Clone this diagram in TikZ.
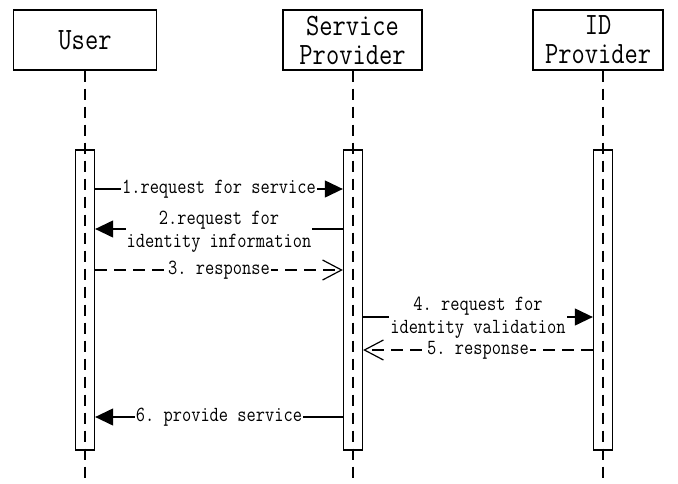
\documentclass[tikz,border=0pt]{standalone}
\usepackage{fontspec}
\setmonofont[FakeStretch=0.83]{Latin Modern Mono}
\usetikzlibrary{arrows.meta}
\begin{document}
\begin{tikzpicture}[x=1pt,y=-1pt,
  head/.style={draw, line width=1.3pt, minimum height=60pt, inner sep=0pt, align=center,
    font=\ttfamily\fontsize{31}{29}\selectfont},
  actbox/.style={draw, line width=1.3pt, minimum width=19pt, minimum height=300pt, inner sep=0pt},
  life/.style={line width=2pt, dash pattern=on 11pt off 7pt},
  lbl/.style={fill=white, inner sep=1pt, align=center,
    font=\ttfamily\fontsize{21.6}{23}\selectfont},
  sync/.style={line width=1.2pt, -{Triangle[length=18pt,width=17pt]}},
  reply/.style={line width=1.2pt, dash pattern=on 12pt off 7pt,
    -{Straight Barb[length=19pt,width=20pt,line width=1.2pt]}},
]
\useasboundingbox (0,0) rectangle (678,483);

% participants
\node[head, minimum width=143pt] (user) at (85,40) {User};
\node[head, minimum width=139pt] (sp) at (352.5,40) {Service\\Provider};
\node[head, minimum width=130pt] (idp) at (598,40) {ID\\Provider};

% activation boxes
\node[actbox] (ua) at (85,300) {};
\node[actbox] (sa) at (353,300) {};
\node[actbox] (ia) at (603,300) {};

% lifeline ends
\coordinate (ue) at (85,483);
\coordinate (se) at (353,483);
\coordinate (ie) at (603,483);

\draw[life] (user.south -| ua.center) -- (ue);
\draw[life] (sp.south -| sa.center) -- (se);
\draw[life] (idp.south -| ia.center) -- (ie);

% message end points
\coordinate (m1a) at (ua.east |- 0,189);
\coordinate (m1b) at (sa.west |- 0,189);
\coordinate (m2a) at (sa.west |- 0,229);
\coordinate (m2b) at (ua.east |- 0,229);
\coordinate (m3a) at (ua.east |- 0,270);
\coordinate (m3b) at (sa.west |- 0,270);
\coordinate (m4a) at (sa.east |- 0,317);
\coordinate (m4b) at (ia.west |- 0,317);
\coordinate (m5a) at (ia.west |- 0,350);
\coordinate (m5b) at (sa.east |- 0,350);
\coordinate (m6a) at (sa.west |- 0,417);
\coordinate (m6b) at (ua.east |- 0,417);

\draw[sync] (m1a) -- node[lbl] {1.request for service} (m1b);
\draw[sync] (m2a) -- node[lbl, yshift=-3pt] {2.request for\\identity information} (m2b);
\draw[reply] (m3a) -- node[lbl] {3. response} (m3b);
\draw[sync] (m4a) -- node[lbl, yshift=-1pt] {4. request for\\identity validation} (m4b);
\draw[reply] (m5a) -- node[lbl] {5. response} (m5b);
\draw[sync] (m6a) -- node[lbl] {6. provide service} (m6b);
\end{tikzpicture}
\end{document}
